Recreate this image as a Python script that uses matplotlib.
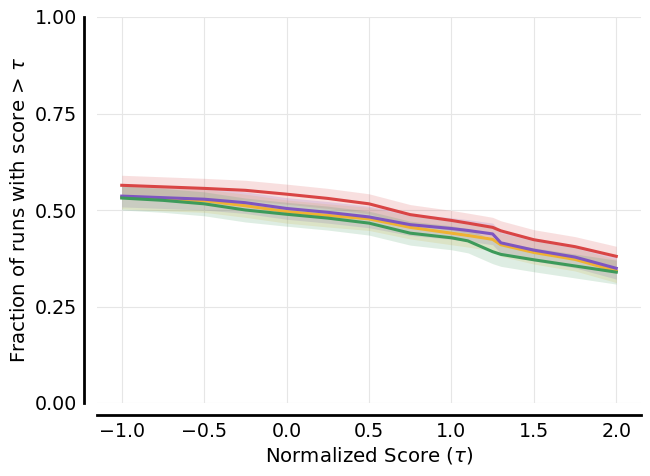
import numpy as np
import matplotlib
matplotlib.use("Agg")
import matplotlib.pyplot as plt

tau = [-1.0, -0.75, -0.5, -0.25, 0.0, 0.25, 0.5, 0.75, 1.0, 1.1, 1.25, 1.3, 1.5, 1.75, 2.0]

red = [0.564, 0.560, 0.556, 0.551, 0.541, 0.530, 0.516, 0.488, 0.473, 0.466, 0.455, 0.446, 0.423, 0.405, 0.380]
purple = [0.536, 0.532, 0.528, 0.519, 0.504, 0.494, 0.482, 0.462, 0.452, 0.447, 0.438, 0.415, 0.396, 0.378, 0.349]
yellow = [0.533, 0.528, 0.524, 0.511, 0.496, 0.486, 0.477, 0.455, 0.440, 0.434, 0.424, 0.410, 0.390, 0.372, 0.342]
green = [0.531, 0.525, 0.516, 0.500, 0.489, 0.479, 0.466, 0.440, 0.428, 0.420, 0.392, 0.385, 0.371, 0.355, 0.339]

red_ci = [0.026, 0.026, 0.026, 0.026, 0.026, 0.026, 0.026, 0.026, 0.026, 0.026, 0.026, 0.026, 0.026, 0.026, 0.026]
purple_ci = [0.028, 0.028, 0.028, 0.028, 0.028, 0.028, 0.028, 0.028, 0.028, 0.028, 0.028, 0.028, 0.028, 0.028, 0.028]
yellow_ci = [0.030, 0.030, 0.030, 0.030, 0.030, 0.030, 0.030, 0.030, 0.030, 0.030, 0.030, 0.030, 0.030, 0.030, 0.030]
green_ci = [0.031, 0.031, 0.031, 0.031, 0.031, 0.031, 0.031, 0.031, 0.031, 0.031, 0.031, 0.031, 0.031, 0.031, 0.031]

series = [
    (red, red_ci, "#d94545"),
    (yellow, yellow_ci, "#efb233"),
    (purple, purple_ci, "#7e55c0"),
    (green, green_ci, "#3d9a5a"),
]

fig = plt.figure(figsize=(6.5, 4.76), dpi=100)
ax = fig.add_axes([97 / 650, 1 - 403 / 476, (641 - 97) / 650, (403 - 17) / 476])

t = np.array(tau)
for vals, ci, col in series:
    v = np.array(vals)
    c = np.array(ci)
    ax.fill_between(t, v - c, v + c, color=col, alpha=0.17, linewidth=0)
for vals, ci, col in series:
    ax.plot(t, vals, color=col, linewidth=2.2)

ax.set_ylim(0, 1)
ax.set_yticks([0, 0.25, 0.5, 0.75, 1.0])
ax.set_xticks([-1.0, -0.5, 0.0, 0.5, 1.0, 1.5, 2.0])
ax.grid(True, color="#e6e6e6", linewidth=0.8)
ax.set_axisbelow(True)
for s in ["top", "right"]:
    ax.spines[s].set_visible(False)
ax.spines["left"].set_position(("outward", 9.5))
ax.spines["bottom"].set_position(("outward", 8.5))
ax.spines["left"].set_linewidth(2)
ax.spines["bottom"].set_linewidth(2)
ax.tick_params(length=0, labelsize=13.7, pad=5)
ax.set_xlabel(r"Normalized Score ($\tau$)", fontsize=14.2, labelpad=3)
ax.set_ylabel(r"Fraction of runs with score > $\tau$", fontsize=14.2)
fig.savefig("out.png", dpi=100)
